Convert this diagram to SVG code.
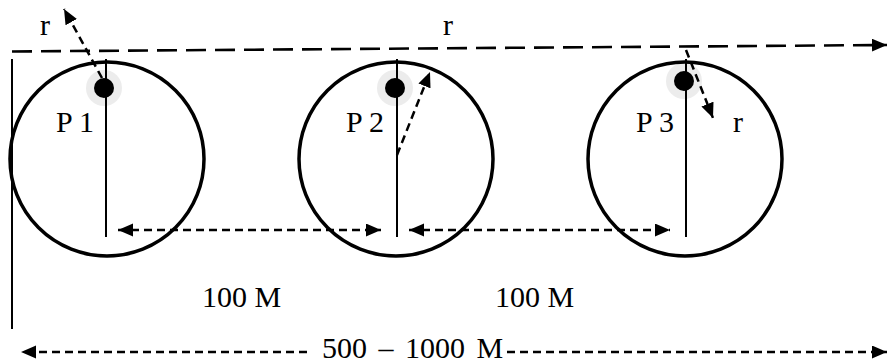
<svg xmlns="http://www.w3.org/2000/svg" width="888" height="364" viewBox="0 0 888 364">
<style>
.ring{fill:none;stroke:#000;stroke-width:3.5}
.axis{stroke:#000;stroke-width:2;fill:none}
.halo{fill:#ececec}
.dot{fill:#000}
.lbl{font-family:"Liberation Serif","Times New Roman",serif;font-size:30px;fill:#000}
.dash{stroke:#000;stroke-width:2.5;fill:none;stroke-dasharray:8 5}
.top{stroke:#000;stroke-width:2.6;fill:none;stroke-dasharray:20 9}
</style>
<defs>
<marker id="ah" markerUnits="userSpaceOnUse" markerWidth="16" markerHeight="14" refX="15" refY="6.5" orient="auto-start-reverse">
<path d="M0,0 L15,6.5 L0,13 z" fill="#000"/>
</marker>
</defs>
<rect width="888" height="364" fill="#fff"/>
<line class="axis" x1="12" y1="59" x2="12" y2="329"/>
<g id="P1">
<circle class="halo" cx="104" cy="88" r="18"/>
<circle class="ring" cx="107" cy="159" r="97"/>
<line class="axis" x1="106" y1="59" x2="106" y2="237"/>
<circle class="dot" cx="104" cy="88" r="10"/>
<text class="lbl" x="56" y="132">P 1</text>
</g>
<g id="P2">
<circle class="halo" cx="395" cy="88" r="18"/>
<circle class="ring" cx="396" cy="159" r="97"/>
<line class="axis" x1="397" y1="59" x2="397" y2="237"/>
<circle class="dot" cx="395" cy="88" r="10"/>
<text class="lbl" x="346" y="132">P 2</text>
</g>
<g id="P3">
<circle class="halo" cx="684" cy="81" r="18"/>
<circle class="ring" cx="685" cy="159" r="97"/>
<line class="axis" x1="686" y1="59" x2="686" y2="237"/>
<circle class="dot" cx="684" cy="81" r="10"/>
<text class="lbl" x="636" y="132">P 3</text>
</g>
<g id="connectors">
<line class="top" x1="12" y1="51.5" x2="887" y2="45" marker-end="url(#ah)"/>
<line class="dash" x1="102" y1="78" x2="64" y2="9" marker-end="url(#ah)"/>
<line class="dash" x1="397" y1="155" x2="430" y2="72" marker-end="url(#ah)"/>
<line class="dash" x1="686" y1="50" x2="713" y2="118" marker-end="url(#ah)"/>
<line class="dash" x1="118" y1="230" x2="381" y2="230" marker-start="url(#ah)" marker-end="url(#ah)"/>
<line class="dash" x1="409" y1="230" x2="670" y2="230" marker-start="url(#ah)" marker-end="url(#ah)"/>
<line class="dash" x1="307" y1="352" x2="21" y2="352" marker-end="url(#ah)"/>
<line class="dash" x1="507" y1="352" x2="887" y2="352" marker-end="url(#ah)"/>
</g>
<g id="labels">
<text class="lbl" x="40" y="35">r</text>
<text class="lbl" x="443" y="35">r</text>
<text class="lbl" x="733" y="132">r</text>
<text class="lbl" x="202" y="307">100 M</text>
<text class="lbl" x="495" y="307">100 M</text>
<text class="lbl" x="322" y="358" style="word-spacing:4px">500 – 1000 M</text>
</g>
</svg>
